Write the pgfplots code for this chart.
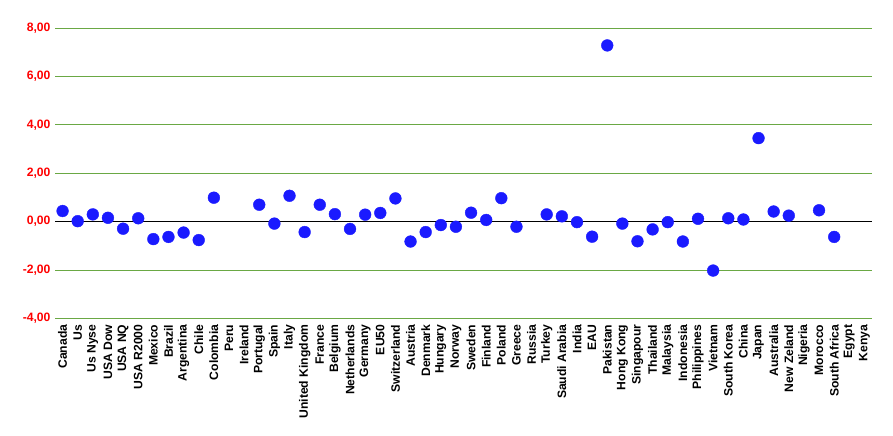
\documentclass[border=0pt]{standalone}
\usepackage{pgfplots}
\pgfplotsset{compat=1.18}
\usepackage{fontspec}
\setmainfont{Liberation Sans}
\definecolor{gridgreen}{RGB}{106,168,68}
\definecolor{dotblue}{RGB}{26,26,255}
\begin{document}
\begin{tikzpicture}
\useasboundingbox (0,0) rectangle (893bp,436bp);
\begin{axis}[
  at={(55bp,117.5bp)}, anchor=south west,
  width=817bp, height=290.5bp, scale only axis,
  xmin=-0.5, xmax=53.5, ymin=-4, ymax=8,
  axis line style={draw=none},
  major tick length=0pt,
  ytick={-4,-2,...,8},
  ymajorgrids,
  grid style={gridgreen, line width=0.9pt},
  extra y ticks={0}, extra y tick labels={},
  extra y tick style={grid style={black, line width=0.9pt}},
  /pgf/number format/assume math mode=true,
  yticklabel style={font=\fontsize{12.2}{14}\selectfont\bfseries, text=red, xshift=-1bp,
    /pgf/number format/fixed, /pgf/number format/fixed zerofill,
    /pgf/number format/precision=2, /pgf/number format/use comma},
  xtick={0,...,53},
  xticklabels={Canada,Us,Us Nyse,USA Dow,USA NQ,USA R2000,Mexico,Brazil,Argentina,Chile,Colombia,Peru,Ireland,Portugal,Spain,Italy,United Kingdom,France,Belgium,Netherlands,Germany,EU50,Switzerland,Austria,Denmark,Hungary,Norway,Sweden,Finland,Poland,Greece,Russia,Turkey,Saudi Arabia,India,EAU,Pakistan,Hong Kong,Singapour,Thailand,Malaysia,Indonesia,Philippines,Vietnam,South Korea,China,Japan,Australia,New Zeland,Nigeria,Morocco,South Africa,Egypt,Kenya},
  xticklabel style={rotate=90, anchor=east, font=\fontsize{12.2}{14}\selectfont\bfseries, inner sep=1pt, xshift=-5bp},
]
\addplot[only marks, mark=*, mark size=5.9bp, draw=dotblue, fill=dotblue] coordinates {
(0,0.44) (1,0.02) (2,0.30) (3,0.16) (4,-0.29) (5,0.14) (6,-0.72) (7,-0.63) (8,-0.45) (9,-0.76)
(10,0.99) (13,0.70) (14,-0.08) (15,1.07) (16,-0.43) (17,0.70) (18,0.31) (19,-0.30)
(20,0.29) (21,0.36) (22,0.96) (23,-0.82) (24,-0.43) (25,-0.14) (26,-0.21) (27,0.37) (28,0.07) (29,0.97)
(30,-0.21) (32,0.30) (33,0.22) (34,-0.02) (35,-0.62) (36,7.28) (37,-0.08) (38,-0.81) (39,-0.32)
(40,-0.02) (41,-0.82) (42,0.12) (43,-2.02) (44,0.14) (45,0.09) (46,3.45) (47,0.42) (48,0.25)
(50,0.47) (51,-0.63)
};
\end{axis}
\end{tikzpicture}
\end{document}
